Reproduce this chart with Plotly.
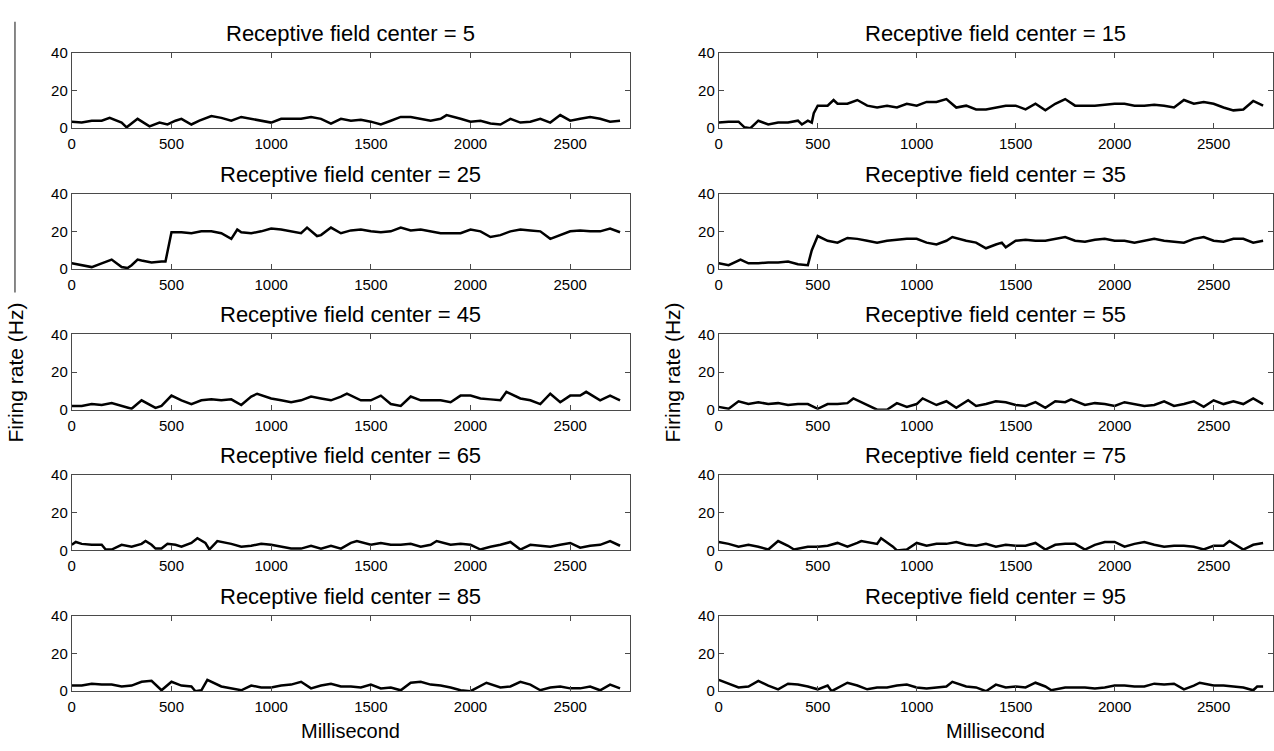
import plotly.graph_objects as go

# Firing rate (Hz) over time (ms) for ten receptive field centers
t_05 = [0, 50, 100, 150, 190, 250, 275, 330, 390, 440, 480, 520, 550, 600, 640, 700, 750, 800, 850, 900, 950, 1000,
        1050, 1100, 1150, 1200, 1250, 1300, 1350, 1400, 1450, 1500, 1550, 1600, 1650, 1700, 1750, 1800, 1850, 1880,
        1950, 2000, 2050, 2100, 2150, 2200, 2250, 2300, 2350, 2400, 2450, 2500, 2550, 2600, 2650, 2700, 2750]
hz_05 = [3.5, 3, 4, 4, 5.5, 3, 0.5, 5, 1, 3, 2, 4, 5, 2, 4, 6.5, 5.5, 4, 6, 5, 4, 3,
         5, 5, 5, 6, 5, 2.5, 5, 4, 4.5, 3.5, 2, 4, 6, 6, 5, 4, 5, 7,
         5, 3.5, 4, 2.5, 2, 5, 3, 3.5, 5, 3, 7, 4, 5, 6, 5, 3.5, 4]

t_15 = [0, 50, 100, 130, 160, 200, 250, 300, 350, 400, 420, 450, 470, 480, 500, 550, 580, 600, 650, 700, 750, 800,
        850, 900, 950, 1000, 1050, 1100, 1150, 1200, 1250, 1300, 1350, 1400, 1450, 1500, 1550, 1600, 1650, 1700,
        1750, 1800, 1850, 1900, 1950, 2000, 2050, 2100, 2150, 2200, 2250, 2300, 2350, 2400, 2450, 2500, 2550, 2600,
        2650, 2700, 2750]
hz_15 = [3, 3.5, 3.5, 0.5, 0, 4, 2, 3, 3, 4, 2, 4, 3, 8, 12, 12, 15, 13, 13, 15, 12, 11,
         12, 11, 13, 12, 14, 14, 15.5, 11, 12, 10, 10, 11, 12, 12, 10, 13, 9.5, 13,
         15.5, 12, 12, 12, 12.5, 13, 13, 12, 12, 12.5, 12, 11, 15, 13, 14, 13, 11, 9.5,
         10, 14.5, 12]

t_25 = [0, 50, 100, 150, 200, 250, 280, 300, 330, 350, 400, 450, 470, 500, 550, 600, 650, 700, 750, 800, 830, 850,
        900, 950, 1000, 1050, 1100, 1150, 1180, 1230, 1250, 1300, 1350, 1400, 1450, 1500, 1550, 1600, 1650, 1700,
        1750, 1800, 1850, 1900, 1950, 2000, 2050, 2100, 2150, 2200, 2250, 2300, 2350, 2400, 2450, 2500, 2550, 2600,
        2650, 2700, 2750]
hz_25 = [3, 2, 1, 3, 5, 1, 0.5, 2, 5, 4.5, 3.5, 4, 4, 19.5, 19.5, 19, 20, 20, 19, 16, 21, 19.5,
         19, 20, 21.5, 21, 20, 19, 22, 17.5, 18, 22, 19, 20.5, 21, 20, 19.5, 20, 22, 20.5,
         21, 20, 19, 19, 19, 21, 20, 17, 18, 20, 21, 20.5, 20, 16, 18, 20, 20.5, 20,
         20, 21.5, 19.5]

t_35 = [0, 50, 110, 150, 200, 250, 300, 350, 400, 450, 470, 500, 550, 600, 650, 700, 750, 800, 850, 900, 950, 1000,
        1050, 1100, 1150, 1180, 1250, 1300, 1350, 1400, 1430, 1450, 1500, 1550, 1600, 1650, 1700, 1750, 1800, 1850,
        1900, 1950, 2000, 2050, 2100, 2150, 2200, 2250, 2300, 2350, 2400, 2450, 2500, 2550, 2600, 2650, 2700, 2750]
hz_35 = [3, 2, 5, 3, 3, 3.5, 3.5, 4, 2.5, 2, 10, 17.5, 15, 14, 16.5, 16, 15, 14, 15, 15.5, 16, 16,
         14, 13, 15, 17, 15, 14, 11, 13, 14, 11.5, 15, 15.5, 15, 15, 16, 17, 15, 14.5,
         15.5, 16, 15, 15, 14, 15, 16, 15, 14.5, 14, 16, 17, 15, 14.5, 16, 16, 14, 15]

t_45 = [0, 50, 100, 150, 200, 250, 300, 350, 400, 420, 450, 500, 550, 600, 650, 700, 750, 800, 850, 900, 930, 1000,
        1050, 1100, 1150, 1200, 1250, 1300, 1350, 1380, 1450, 1500, 1550, 1600, 1650, 1700, 1750, 1800, 1850, 1900,
        1950, 2000, 2050, 2100, 2150, 2180, 2250, 2300, 2350, 2400, 2450, 2500, 2550, 2580, 2650, 2700, 2750]
hz_45 = [2, 2, 3, 2.5, 3.5, 2, 0.5, 5, 2, 1, 2, 7.5, 5, 3, 5, 5.5, 5, 5.5, 2.5, 7, 8.5, 6,
         5, 4, 5, 7, 6, 5, 7, 8.5, 5, 5, 7.5, 3, 2, 7, 5, 5, 5, 4,
         7.5, 7.5, 6, 5.5, 5, 9.5, 6, 5, 3, 8.5, 4, 7.5, 7.5, 9.5, 5, 7.5, 5]

t_55 = [0, 50, 100, 150, 200, 250, 300, 350, 400, 450, 500, 550, 600, 650, 680, 750, 800, 850, 900, 950, 1000, 1030,
        1100, 1150, 1200, 1260, 1300, 1350, 1400, 1450, 1500, 1550, 1600, 1650, 1700, 1750, 1780, 1850, 1900, 1950,
        2000, 2050, 2100, 2150, 2200, 2250, 2300, 2350, 2400, 2450, 2500, 2550, 2600, 2650, 2700, 2750]
hz_55 = [1.5, 0.5, 4.5, 3, 4, 3, 3.5, 2.5, 3, 3, 0.5, 3, 3, 3.5, 6, 2.5, 0, 0, 3.5, 1.5, 3, 6,
         2.5, 4.5, 1, 5, 2, 3, 4.5, 4, 2.5, 2, 4, 1, 4.5, 4, 5.5, 2.5, 3.5, 3,
         2, 4, 3, 2, 2.5, 4.5, 2, 3, 4.5, 1.5, 5, 3, 4.5, 3, 6, 3]

t_65 = [0, 20, 50, 100, 150, 170, 200, 250, 300, 350, 370, 400, 420, 450, 480, 520, 550, 600, 630, 670, 690, 730,
        800, 850, 900, 950, 1000, 1050, 1100, 1150, 1200, 1250, 1300, 1350, 1400, 1430, 1500, 1550, 1600, 1650,
        1700, 1750, 1800, 1830, 1900, 1950, 2000, 2050, 2100, 2150, 2200, 2250, 2300, 2350, 2400, 2450, 2500, 2550,
        2600, 2650, 2700, 2750]
hz_65 = [3, 4.5, 3.5, 3, 3, 0.5, 0.5, 3, 2, 3.5, 5, 3, 1, 1, 3.5, 3, 2, 4, 6.5, 4, 0.5, 5,
         3.5, 2, 2.5, 3.5, 3, 2, 1, 1, 2.5, 1, 2.5, 1, 4, 5, 3, 4, 3, 3,
         3.5, 2, 3, 5, 3, 3.5, 3, 0.5, 2, 3, 4.5, 0.5, 3, 2.5, 2, 3, 4, 1.5,
         2.5, 3, 5, 2.5]

t_75 = [0, 50, 100, 150, 200, 250, 300, 350, 380, 450, 500, 550, 600, 650, 700, 720, 800, 820, 880, 900, 950, 1000,
        1050, 1100, 1150, 1200, 1250, 1300, 1350, 1400, 1450, 1500, 1550, 1600, 1650, 1700, 1750, 1800, 1850, 1900,
        1950, 2000, 2050, 2100, 2150, 2200, 2250, 2300, 2350, 2400, 2450, 2500, 2550, 2580, 2650, 2700, 2750]
hz_75 = [4.5, 3.5, 2, 3, 2, 0.5, 5, 2.5, 0.5, 2, 2, 2.5, 4, 2, 4, 5, 3.5, 6.5, 2, 0, 0.5, 4,
         2.5, 3.5, 3.5, 4.5, 3, 2.5, 3.5, 2, 3, 2.5, 2.5, 4, 0.5, 3, 3.5, 3.5, 0.5, 3,
         4.5, 4.5, 2, 3.5, 4.5, 3, 2, 2.5, 2.5, 2, 0.5, 2.5, 2.5, 5, 0.5, 3, 4]

t_85 = [0, 50, 100, 150, 200, 250, 300, 350, 400, 450, 500, 550, 600, 620, 650, 680, 750, 800, 850, 900, 950, 1000,
        1050, 1100, 1150, 1200, 1250, 1300, 1350, 1400, 1450, 1500, 1550, 1600, 1650, 1700, 1750, 1800, 1850, 1900,
        1950, 2000, 2050, 2080, 2150, 2200, 2250, 2300, 2350, 2400, 2450, 2500, 2550, 2600, 2650, 2700, 2750]
hz_85 = [3, 3, 4, 3.5, 3.5, 2.5, 3, 5, 5.5, 0.5, 5, 3, 2.5, 0, 0.5, 6, 2.5, 1.5, 0.5, 3, 2, 2,
         3, 3.5, 5, 1.5, 3, 4, 2.5, 2.5, 2, 3.5, 1.5, 2, 0.5, 4.5, 5, 3.5, 3, 2,
         0.5, 0, 3, 4.5, 2, 2.5, 5, 3.5, 0.5, 2, 2.5, 1.5, 1.5, 2.5, 0.5, 3.5, 1.5]

t_95 = [0, 50, 100, 150, 200, 250, 300, 350, 400, 450, 500, 550, 570, 650, 700, 750, 800, 850, 900, 950, 1000, 1050,
        1100, 1150, 1180, 1250, 1300, 1350, 1400, 1450, 1500, 1550, 1600, 1650, 1680, 1750, 1800, 1850, 1900, 1950,
        2000, 2050, 2100, 2150, 2200, 2250, 2300, 2350, 2400, 2430, 2500, 2550, 2600, 2650, 2700, 2720, 2750]
hz_95 = [6, 4, 2, 2.5, 5.5, 3, 1, 4, 3.5, 2.5, 1, 3, 0, 4.5, 3, 1, 2, 2, 3, 3.5, 2, 1.5,
         2, 2.5, 5, 2.5, 2, 0, 3.5, 2, 2.5, 2, 4.5, 2.5, 0.5, 2, 2, 2, 1.5, 2,
         3, 3, 2.5, 2.5, 4, 3.5, 4, 1, 3, 4.5, 3, 3, 2.5, 2, 0.5, 2.5, 2.5]

centers = [5, 15, 25, 35, 45, 55, 65, 75, 85, 95]
times = [t_05, t_15, t_25, t_35, t_45, t_55, t_65, t_75, t_85, t_95]
rates = [hz_05, hz_15, hz_25, hz_35, hz_45, hz_55, hz_65, hz_75, hz_85, hz_95]

x_ticks = [0, 500, 1000, 1500, 2000, 2500]
y_ticks = [0, 20, 40]

W, H = 1274, 751
FONT = "Liberation Sans, Arial, Helvetica, sans-serif"

# panel frames in pixels: columns (left, right), rows (top, bottom)
col_px = [(68, 628), (717, 1273)]
row_px = [(45, 122), (189, 266), (333, 410), (477, 554), (621, 698)]


def px_x(v):
    return v / W


def px_y(v):
    return 1 - v / H


fig = go.Figure()
annotations = []

for i, (c, t, r) in enumerate(zip(centers, times, rates)):
    row, col = divmod(i, 2)
    n = i + 1
    xa = "x" if n == 1 else f"x{n}"
    ya = "y" if n == 1 else f"y{n}"
    fig.add_trace(go.Scatter(x=t, y=r, mode="lines", xaxis=xa, yaxis=ya,
                             line=dict(color="black", width=2.5), showlegend=False,
                             hoverinfo="skip"))
    x0, x1 = col_px[col]
    top, bot = row_px[row]
    axis_common = dict(showline=True, linecolor="#4a4a4a", linewidth=1, mirror="ticks",
                       ticks="inside", ticklen=5, tickcolor="#4a4a4a", showgrid=False,
                       zeroline=False, tickfont=dict(family=FONT, size=15, color="black"))
    fig.layout[f"xaxis{'' if n == 1 else n}"] = dict(
        domain=[px_x(x0), px_x(x1)], anchor=ya, range=[0, 2800],
        tickvals=x_ticks, ticktext=[str(v) for v in x_ticks], ticklabelstandoff=2,
        **axis_common)
    fig.layout[f"yaxis{'' if n == 1 else n}"] = dict(
        domain=[px_y(bot), px_y(top)], anchor=xa, range=[0, 40],
        tickvals=y_ticks, ticktext=[str(v) for v in y_ticks], **axis_common)
    annotations.append(dict(text=f"Receptive field center = {c}", xref="paper", yref="paper",
                            x=px_x((x0 + x1) / 2), y=px_y(top - 20), xanchor="center",
                            yanchor="middle", showarrow=False,
                            font=dict(family=FONT, size=22, color="black")))

for col in range(2):
    x0, x1 = col_px[col]
    annotations.append(dict(text="Millisecond", xref="paper", yref="paper",
                            x=px_x((x0 + x1) / 2), y=px_y(739), xanchor="center",
                            yanchor="middle", showarrow=False,
                            font=dict(family=FONT, size=20, color="black")))

for xc in (12, 671):
    annotations.append(dict(text="Firing rate (Hz)", xref="paper", yref="paper",
                            x=px_x(xc), y=px_y(372), xanchor="center", yanchor="middle",
                            textangle=-90, showarrow=False,
                            font=dict(family=FONT, size=21, color="black")))

fig.update_layout(
    width=W, height=H,
    margin=dict(l=0, r=0, t=0, b=0),
    paper_bgcolor="white", plot_bgcolor="white",
    annotations=annotations,
    shapes=[dict(type="line", xref="paper", yref="paper",
                 x0=px_x(11), x1=px_x(11), y0=px_y(13), y1=px_y(290),
                 line=dict(color="#606060", width=1.5))],
)

fig.write_html("out.html", config={"displayModeBar": False})
